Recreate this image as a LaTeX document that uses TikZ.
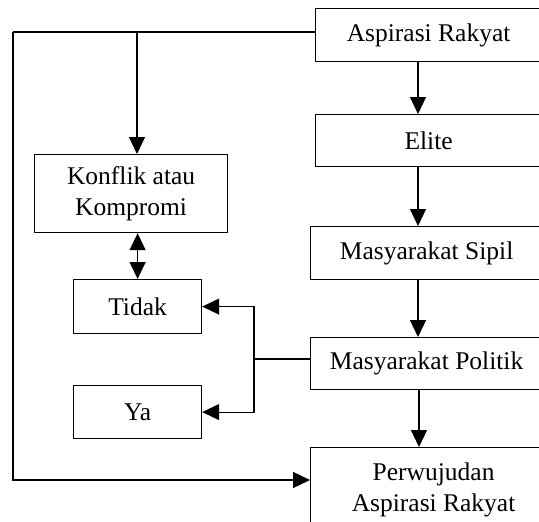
\documentclass[tikz,border=0pt]{standalone}
\usepackage{fontspec}
\setmainfont{Liberation Serif}
\usetikzlibrary{arrows.meta}
\begin{document}
\begin{tikzpicture}[x=1pt,y=-1pt,
  box/.style={draw,line width=1.2pt,rectangle,inner sep=0pt,anchor=north west,align=center,font=\fontsize{25.5}{31}\selectfont},
  conn/.style={line width=1.2pt,-{Triangle[length=17pt,width=16pt]}},
  dconn/.style={line width=1.2pt,{Triangle[length=17pt,width=16pt]}-{Triangle[length=17pt,width=16pt]}}]
\useasboundingbox (0,0) rectangle (539,522);
\clip (0,0) rectangle (539,522);
\node[box,minimum width=226pt,minimum height=53pt] (asp) at (315,8) {Aspirasi Rakyat};
\node[box,minimum width=226pt,minimum height=52pt] (elite) at (315,114) {Elite};
\node[box,minimum width=232pt,minimum height=53pt] (sipil) at (310,226) {Masyarakat Sipil};
\node[box,minimum width=232pt,minimum height=52pt] (pol) at (310,337) {Masyarakat Politik};
\node[box,minimum width=246pt,minimum height=84pt] (perw) at (310,447) {Perwujudan\\Aspirasi Rakyat};
\node[box,minimum width=193pt,minimum height=78pt] (konf) at (34,154) {Konflik atau\\Kompromi};
\node[box,minimum width=128pt,minimum height=54pt] (tidak) at (73,279) {Tidak};
\node[box,minimum width=128pt,minimum height=53pt] (ya) at (73,385) {Ya};
\coordinate (tl) at (13,32);
\coordinate (bl) at (13,480);
\coordinate (kt) at (137,32);
\coordinate (jx) at (254,359);
% main flow
\draw[conn] (asp.south -| 418,0) -- (elite.north -| 418,0);
\draw[conn] (elite.south -| 418,0) -- (sipil.north -| 418,0);
\draw[conn] (sipil.south -| 418,0) -- (pol.north -| 418,0);
\draw[conn] (pol.south -| 419,0) -- (perw.north -| 419,0);
% left loop
\draw[line width=1.2pt] (asp.west |- tl) -- (tl);
\draw[conn] (tl) -- (bl) -- (perw.west |- bl);
\draw[conn] (kt) -- (kt |- konf.north);
\draw[dconn] (konf.south -| tidak.north) -- (tidak.north);
% politik branch
\draw[line width=1.2pt] (pol.west |- jx) -- (jx);
\draw[conn] (jx) |- (tidak.east);
\draw[conn] (jx) |- (ya.east);
\end{tikzpicture}
\end{document}
